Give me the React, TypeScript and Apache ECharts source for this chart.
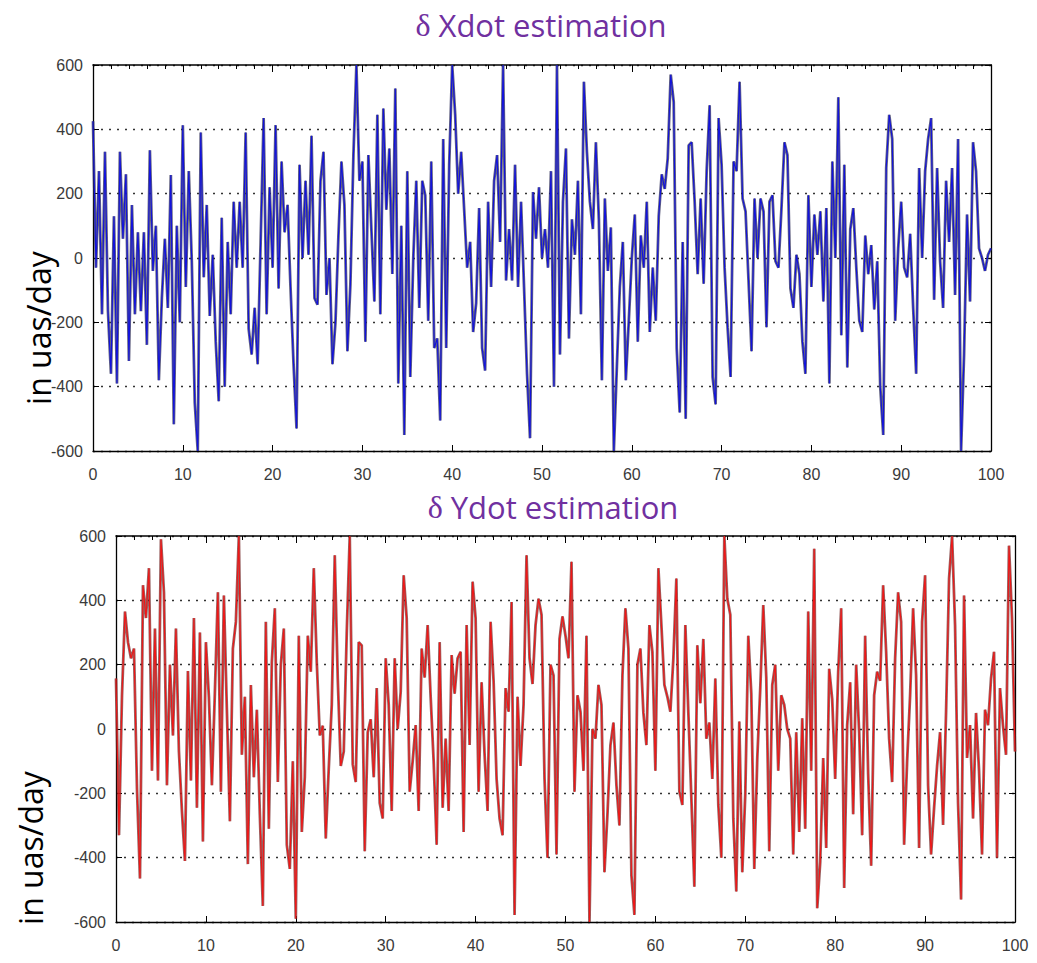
import React, { useEffect, useRef } from "react";
import * as echarts from "echarts";

// δ Xdot estimation — three samples per unit of x, x = 0 .. 100
const xdotValues: number[] = [
  425, -30, 270, -175, 330, -165, -360, 130, -390, 330, 60, 260, -320, 165, -175,
  80, -165, 80, -270, 335, -40, 100, -380, -125, 60, -155, 258, -517, 100, -200,
  413, -90, 270, -10, -450, -600, 390, -60, 165, -180, 10, -260, -445, 125, -400,
  50, -175, 175, -30, 175, -30, 390, -220, -300, -155, -330, 50, 435, -175, 220,
  -30, 413, -95, 300, 80, 165, -95, -330, -530, 290, 0, 240, 10, 380, -125,
  -145, 240, 330, -115, 0, -330, -200, 70, 300, 165, -290, -80, 320, 600, 240,
  300, -260, 320, 90, -135, 445, -175, 465, 150, 340, -50, 527, -390, 100, -550,
  270, -370, 0, 240, -155, 240, 195, -195, 300, -280, -250, -505, 370, -280, 290,
  600, 445, 200, 330, 150, -30, 50, -230, -140, 155, -280, -350, 175, -90, 240,
  320, 50, 600, -70, 90, -70, 290, -90, 175, -90, -360, -560, 205, 60, 220,
  0, 90, -30, 270, -400, 600, -300, 175, 340, -250, 120, 10, 240, -175, 548,
  330, 175, 90, 360, 120, -380, 185, -40, 95, -600, -340, -90, 50, -380, -195,
  0, 135, -260, 70, -30, 175, -230, -30, -195, 130, 260, 215, 310, 570, 485,
  -280, -480, 50, -500, 350, 360, 175, -50, 185, -80, 270, 475, -370, -455, 435,
  290, -30, -215, -370, 300, 270, 548, 185, 145, -70, -290, 185, 0, 185, 145,
  -215, 175, 195, -10, -30, 155, 360, 320, -95, -155, 10, -50, -260, -360, 195,
  -90, 135, 10, 145, -135, 155, -390, 300, 0, 500, -240, 290, -340, 90, 155,
  -30, -195, -230, 70, -50, 40, -160, -10, -400, -550, 280, 445, 370, -195, 30,
  175, -30, -60, 75, -155, -360, 280, 0, 270, 370, 435, -130, 280, -10, -155,
  240, 50, 280, -115, 370, -600, -300, 135, -135, 360, 270, 30, 0, -40, 10,
  30,
];

// δ Ydot estimation — three samples per unit of x, x = 0 .. 100
const ydotValues: number[] = [
  157, -330, 105, 365, 270, 220, 250, -185, -465, 447, 345, 500, -130, 312, -160,
  590, 425, -175, 200, -20, 312, -70, -255, -410, 180, -160, 345, -245, 300, -350,
  270, 100, -175, 115, 425, -195, 415, 60, -287, 250, 333, 600, -80, 100, -420,
  137, -150, 60, -265, -550, 333, -310, 208, 375, -165, 200, 312, -360, -435, -100,
  -590, 290, -320, -150, 290, 178, 500, 208, -20, 10, -340, -122, 75, 540, 157,
  -115, -70, 300, 600, -110, -165, 270, 260, -380, -10, 30, -150, 127, -230, -278,
  220, 75, -255, 220, 0, 115, 478, 345, -195, -100, 12, -255, 250, 160, 323,
  100, -100, -360, 270, -245, -30, -255, 230, 110, 220, 240, -320, 323, -50, 458,
  345, -195, 145, -80, -255, 333, 150, -155, -278, -330, 127, 54, 395, -578, 100,
  -115, 75, 540, 220, 140, 323, 405, 355, -155, -400, 200, 167, -390, 280, 350,
  290, 220, 520, -195, 105, 54, -130, 290, -600, 0, -30, 137, 75, -445, -265,
  -50, 20, -175, -300, 167, 375, 250, -455, -578, 200, 250, 50, -50, 323, 240,
  -130, 500, 323, 137, 100, 54, 220, 468, -195, -236, 323, 50, -215, -490, 260,
  80, 280, -30, 20, -155, 157, -236, -400, 600, 405, 355, -278, -505, 23, -445,
  -200, 290, 110, -435, -90, 127, 385, 160, -380, 137, 200, -130, 105, 75, 0,
  -30, -390, -10, -320, 33, -310, 365, -130, 560, -557, -413, -90, -370, 187, 93,
  -155, 178, 375, -494, 12, 145, -265, 200, -10, -330, 290, -140, -425, 105, 178,
  150, 447, 240, -30, -165, 220, 425, 333, -360, -100, 105, 375, 167, -370, 333,
  478, -175, -390, -245, -115, -10, -298, 54, 468, 600, 323, -230, -530, 415, -90,
  12, -278, 50, -130, -390, 60, 12, 157, 240, -400, 127, 10, -80, 570, 345,
  -70,
];

const SAMPLES_PER_UNIT = 3;
const xRange = [0, 100];
const xInterval = 10;
const yRange = [-600, 600];
const yInterval = 200;
const panelTitles = ["Xdot estimation", "Ydot estimation"];
const yAxisName = "in uas/day";

const toPairs = (vals: number[]) => vals.map((v, i) => [i / SAMPLES_PER_UNIT, v]);

const tickFont = {
  color: "#3a3a3a",
  fontSize: 16,
  fontFamily: "Liberation Sans, Arial, sans-serif",
};

function makeAxes(gridIndex: number) {
  const xBottom = {
    type: "value",
    gridIndex,
    min: xRange[0],
    max: xRange[1],
    interval: xInterval,
    position: "bottom",
    axisLine: { show: true, onZero: false, lineStyle: { color: "#000", width: 1.3 } },
    axisTick: { show: true, inside: true, length: 6, lineStyle: { color: "#000" } },
    axisLabel: { ...tickFont, margin: 15 },
    splitLine: { show: false },
  };
  const xTop = {
    type: "value",
    gridIndex,
    min: xRange[0],
    max: xRange[1],
    interval: xInterval,
    position: "top",
    axisLine: { show: true, onZero: false, lineStyle: { color: "#000", width: 1.6 } },
    axisTick: { show: true, inside: true, length: 7, lineStyle: { color: "#000" } },
    minorTick: { show: true, splitNumber: 5, length: 4, lineStyle: { color: "#000", width: 1 } },
    axisLabel: { show: false },
    splitLine: { show: false },
  };
  const yLeft = {
    type: "value",
    gridIndex,
    min: yRange[0],
    max: yRange[1],
    interval: yInterval,
    position: "left",
    axisLine: { show: true, onZero: false, lineStyle: { color: "#000", width: 1.3 } },
    axisTick: { show: true, inside: true, length: 6, lineStyle: { color: "#000" } },
    axisLabel: { ...tickFont, margin: 10 },
    splitLine: {
      show: true,
      lineStyle: { color: "#333", type: [2, 6], width: 1.4 },
    },
  };
  const yRight = {
    type: "value",
    gridIndex,
    min: yRange[0],
    max: yRange[1],
    interval: yInterval,
    position: "right",
    axisLine: { show: true, onZero: false, lineStyle: { color: "#000", width: 1.3 } },
    axisTick: { show: true, inside: true, length: 6, lineStyle: { color: "#000" } },
    axisLabel: { show: false },
    splitLine: { show: false },
  };
  return { xs: [xBottom, xTop], ys: [yLeft, yRight] };
}

export default function App() {
  const ref = useRef<HTMLDivElement>(null);

  useEffect(() => {
    if (!ref.current) return;
    const chart = echarts.init(ref.current, undefined, { renderer: "svg" });

    const a0 = makeAxes(0);
    const a1 = makeAxes(1);

    const titleStyle = (x: number, y: number, label: string) => ({
      type: "text",
      x,
      y,
      style: {
        text: "{d|δ}{t| " + label + "}",
        align: "center",
        verticalAlign: "middle",
        rich: {
          d: { fontFamily: "Liberation Serif, serif", fontSize: 32, fill: "#7030A0", fontWeight: "normal" },
          t: { fontFamily: "Open Sans, sans-serif", fontSize: 31, fill: "#7030A0" },
        },
      },
    });

    const yName = (x: number, y: number) => ({
      type: "text",
      x,
      y,
      rotation: Math.PI / 2,
      style: {
        text: yAxisName,
        fontFamily: "Open Sans, sans-serif",
        fontSize: 32,
        fill: "#000",
        align: "center",
        verticalAlign: "middle",
      },
    });

    const xdot = toPairs(xdotValues);
    const ydot = toPairs(ydotValues);

    const lineSeries = (data: number[][], idx: number, color: string, width: number, opacity: number, z: number) => ({
      type: "line",
      data,
      xAxisIndex: idx * 2,
      yAxisIndex: idx * 2,
      showSymbol: false,
      symbol: "none",
      clip: true,
      z,
      lineStyle: { color, width, opacity },
      emphasis: { disabled: true },
    });

    chart.setOption({
      animation: false,
      backgroundColor: "#ffffff",
      grid: [
        { left: 93, top: 65, width: 898, height: 386 },
        { left: 116, top: 536, width: 899, height: 386 },
      ],
      xAxis: [...a0.xs, ...a1.xs],
      yAxis: [...a0.ys, ...a1.ys],
      series: [
        lineSeries(xdot, 0, "#2e2e58", 2.8, 0.75, 2),
        lineSeries(xdot, 0, "#1212dc", 1.1, 1, 3),
        lineSeries(ydot, 1, "#6e2020", 2.8, 0.7, 2),
        lineSeries(ydot, 1, "#f01616", 1.1, 1, 3),
      ],
      graphic: [
        titleStyle(541, 25, panelTitles[0]),
        titleStyle(553, 507, panelTitles[1]),
        yName(38, 328),
        yName(30, 848),
      ],
    });

    return () => chart.dispose();
  }, []);

  return (
    <div
      ref={ref}
      style={{ position: "fixed", left: 0, top: 0, width: 1037, height: 963, background: "#fff" }}
    />
  );
}
